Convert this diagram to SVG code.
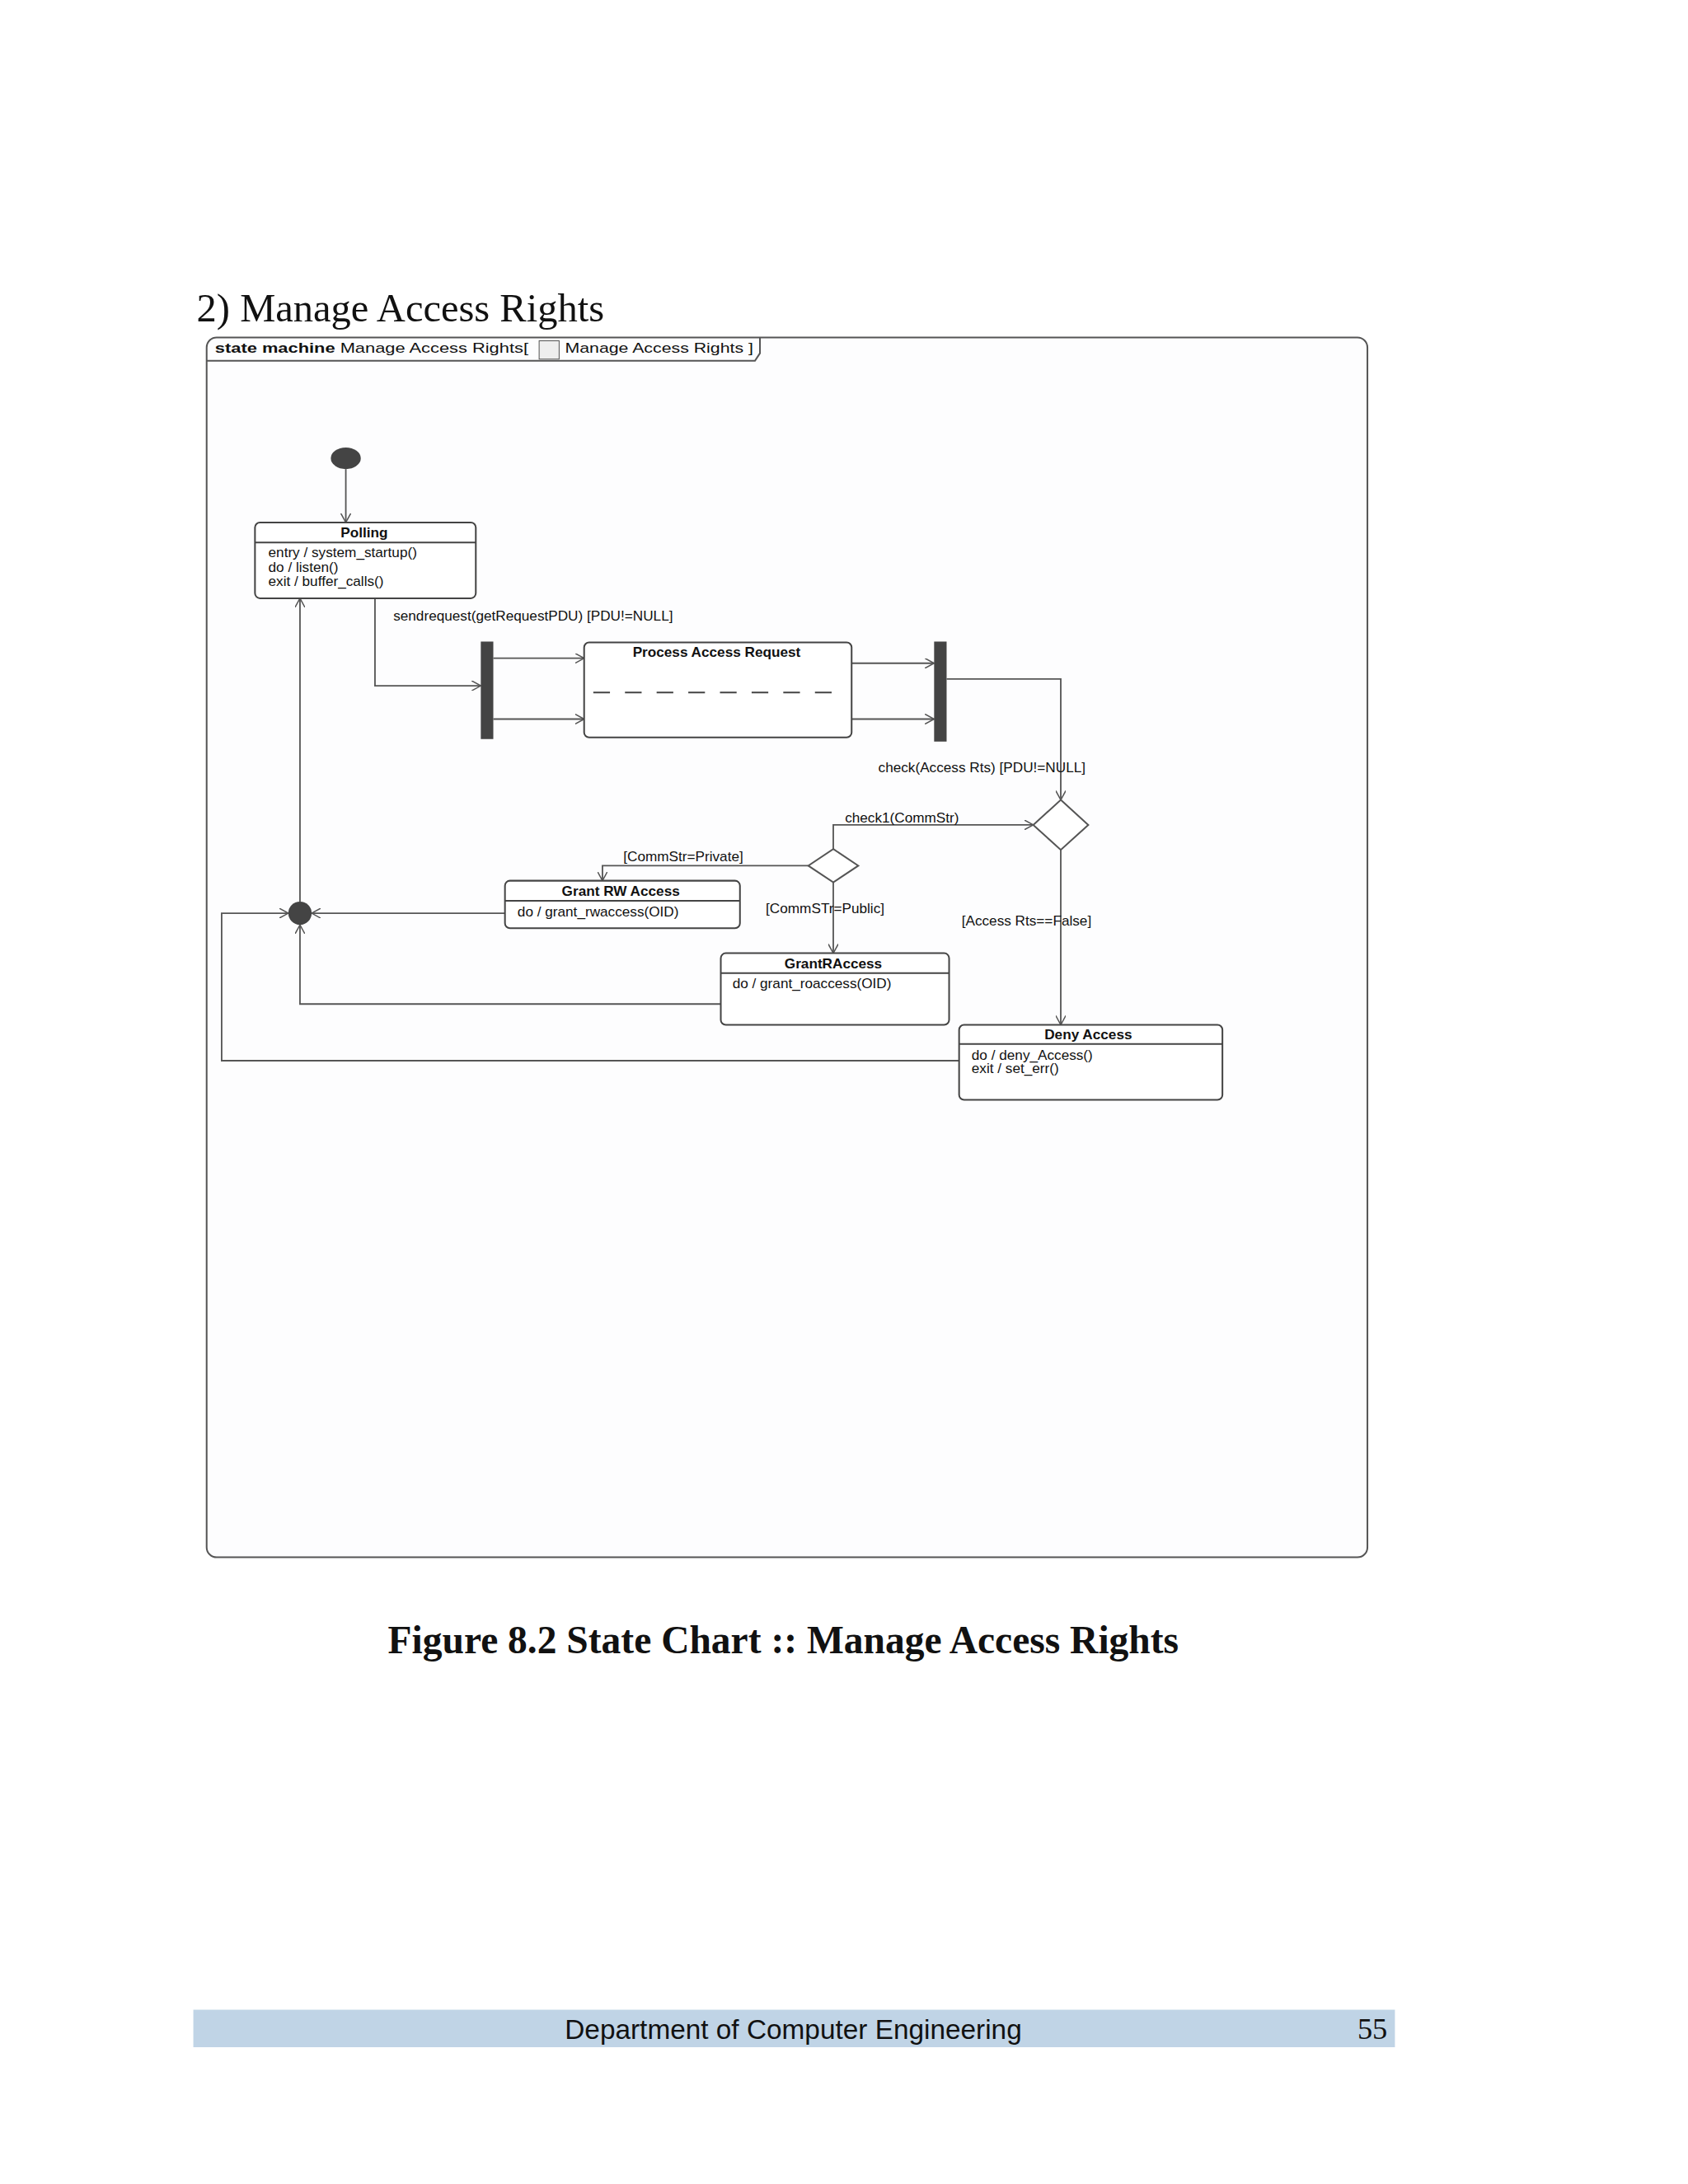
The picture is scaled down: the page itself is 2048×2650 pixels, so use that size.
<svg xmlns="http://www.w3.org/2000/svg" width="2048" height="2650" viewBox="0 0 2048 2650">
<style>
.st{fill:#fff;stroke:#444;stroke-width:2}
.ln{fill:none;stroke:#555;stroke-width:1.8;marker-end:url(#a)}
.t{font-family:"Liberation Sans",Arial,sans-serif;font-size:17px;fill:#111}
.b{font-weight:bold;text-anchor:middle}
</style>
<defs>
<marker id="a" viewBox="0 0 12 12" refX="11" refY="6" markerWidth="12" markerHeight="12" markerUnits="userSpaceOnUse" orient="auto"><path d="M0,0 L11,6 L0,12" fill="none" stroke="#555" stroke-width="1.5"/></marker>
</defs>
<rect width="2048" height="2650" fill="#fff"/>
<g transform="scale(1.011)">
<text x="236" y="386" font-family="Liberation Serif,serif" font-size="48" fill="#111">2) Manage Access Rights</text>
<g id="frame">
<rect x="248" y="405" width="1393" height="1464" rx="12" fill="#fdfdfe" stroke="#555" stroke-width="2"/>
<path d="M248,433 H906 L912,424 V405" fill="none" stroke="#555" stroke-width="2"/>
<text x="258" y="423" class="t" textLength="376" lengthAdjust="spacingAndGlyphs"><tspan font-weight="bold">state machine</tspan> Manage Access Rights[</text>
<rect x="647" y="409" width="24" height="22" fill="#eee" stroke="#555"/>
<text x="678" y="423" class="t" textLength="226" lengthAdjust="spacingAndGlyphs">Manage Access Rights ]</text>
</g>
<g id="connectors">
<path class="ln" d="M415,563 V627"/>
<path class="ln" d="M450,718 V823 H577"/>
<path class="ln" d="M592,790 H701"/>
<path class="ln" d="M592,863 H701"/>
<path class="ln" d="M1022,796 H1121"/>
<path class="ln" d="M1022,863 H1121"/>
<path class="ln" d="M1136,815 H1273 V960"/>
<path class="ln" d="M1000,1019 V990 H1240"/>
<path class="ln" d="M970,1039 H723 V1057"/>
<path class="ln" d="M1000,1059 V1144"/>
<path class="ln" d="M1273,1020 V1230"/>
<path class="ln" d="M606,1096 H374"/>
<path class="ln" d="M865,1205 H360 V1110"/>
<path class="ln" d="M1151,1273 H266 V1096 H346"/>
<path class="ln" d="M360,1082 V718"/>
<text class="t" x="472" y="745">sendrequest(getRequestPDU) [PDU!=NULL]</text>
<text class="t" x="1054" y="927">check(Access Rts) [PDU!=NULL]</text>
<text class="t" x="1014" y="987">check1(CommStr)</text>
<text class="t" x="748" y="1034">[CommStr=Private]</text>
<text class="t" x="919" y="1096">[CommSTr=Public]</text>
<text class="t" x="1154" y="1111">[Access Rts==False]</text>
</g>
<g id="initial"><ellipse cx="415" cy="550" rx="18" ry="13" fill="#444"/></g>
<g id="polling">
<rect class="st" x="306" y="627" width="265" height="91" rx="6"/>
<line x1="306" y1="651" x2="571" y2="651" stroke="#444" stroke-width="2"/>
<text class="t b" x="437" y="645">Polling</text>
<text class="t" x="322" y="669">entry / system_startup()</text>
<text class="t" x="322" y="686">do / listen()</text>
<text class="t" x="322" y="703">exit / buffer_calls()</text>
</g>
<g id="fork"><rect x="577" y="770" width="15" height="117" fill="#444"/></g>
<g id="process">
<rect class="st" x="701" y="771" width="321" height="114" rx="6"/>
<text class="t b" x="860" y="788">Process Access Request</text>
<line x1="712" y1="831" x2="1010" y2="831" stroke="#444" stroke-width="2" stroke-dasharray="20,18"/>
</g>
<g id="join"><rect x="1121" y="770" width="15" height="120" fill="#444"/></g>
<g id="decision1"><polygon points="1273,960 1306,990 1273,1020 1240,990" fill="#fff" stroke="#555" stroke-width="2"/></g>
<g id="decision2"><polygon points="1000,1019 1030,1039 1000,1059 970,1039" fill="#fff" stroke="#555" stroke-width="2"/></g>
<g id="grantrw">
<rect class="st" x="606" y="1057" width="282" height="57" rx="6"/>
<line x1="606" y1="1081" x2="888" y2="1081" stroke="#444" stroke-width="2"/>
<text class="t b" x="745" y="1075">Grant RW Access</text>
<text class="t" x="621" y="1100">do / grant_rwaccess(OID)</text>
</g>
<g id="junction"><circle cx="360" cy="1096" r="14" fill="#444"/></g>
<g id="grantr">
<rect class="st" x="865" y="1144" width="274" height="86" rx="6"/>
<line x1="865" y1="1168" x2="1139" y2="1168" stroke="#444" stroke-width="2"/>
<text class="t b" x="1000" y="1162">GrantRAccess</text>
<text class="t" x="879" y="1186">do / grant_roaccess(OID)</text>
</g>
<g id="deny">
<rect class="st" x="1151" y="1230" width="316" height="90" rx="6"/>
<line x1="1151" y1="1253" x2="1467" y2="1253" stroke="#444" stroke-width="2"/>
<text class="t b" x="1306" y="1247">Deny Access</text>
<text class="t" x="1166" y="1272">do / deny_Access()</text>
<text class="t" x="1166" y="1288">exit / set_err()</text>
</g>
<text x="940" y="1984" text-anchor="middle" font-family="Liberation Serif,serif" font-weight="bold" font-size="47" fill="#111">Figure 8.2 State Chart :: Manage Access Rights</text>
<rect x="232" y="2412" width="1442" height="45" fill="#c0d4e6"/>
<text x="952" y="2447" text-anchor="middle" font-family="Liberation Sans,sans-serif" font-size="33" fill="#111">Department of Computer Engineering</text>
<text x="1629" y="2447" font-family="Liberation Serif,serif" font-size="36" fill="#111">55</text>
</g>
</svg>
